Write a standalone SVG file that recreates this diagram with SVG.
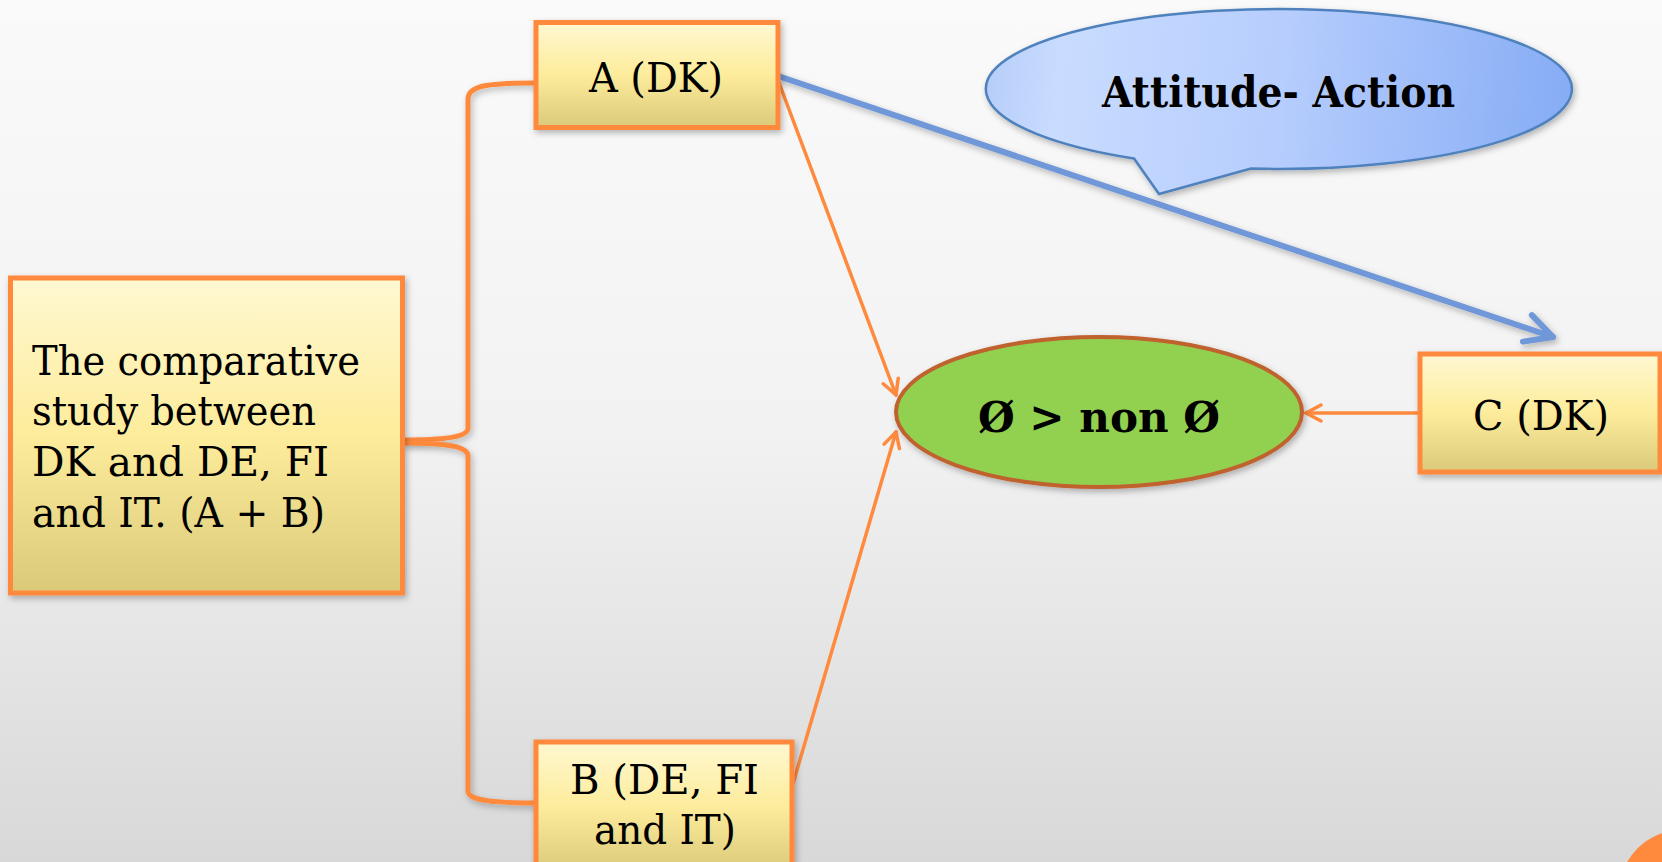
<svg xmlns="http://www.w3.org/2000/svg" width="1662" height="862" viewBox="0 0 1662 862">
  <defs>
    <linearGradient id="bg" x1="0" y1="0" x2="0" y2="1">
      <stop offset="0" stop-color="#fafafa"/>
      <stop offset="0.5" stop-color="#f2f2f2"/>
      <stop offset="1" stop-color="#d8d8d8"/>
    </linearGradient>
    <linearGradient id="boxfill" x1="0" y1="0" x2="0" y2="1">
      <stop offset="0" stop-color="#fff8d2"/>
      <stop offset="0.5" stop-color="#fdec9b"/>
      <stop offset="1" stop-color="#d9c978"/>
    </linearGradient>
    <linearGradient id="callfill" gradientUnits="userSpaceOnUse" x1="990" y1="60" x2="1572" y2="120">
      <stop offset="0" stop-color="#b7cef9"/>
      <stop offset="0.12" stop-color="#c9dcff"/>
      <stop offset="0.5" stop-color="#b6cdfd"/>
      <stop offset="1" stop-color="#86acf5"/>
    </linearGradient>
    <filter id="shadow" x="-10%" y="-10%" width="130%" height="130%">
      <feDropShadow dx="2" dy="3" stdDeviation="3" flood-color="#000" flood-opacity="0.28"/>
    </filter>
    <marker id="arrO" viewBox="0 0 20 20" refX="18" refY="10" markerWidth="20" markerHeight="20" markerUnits="userSpaceOnUse" orient="auto">
      <path d="M3,2 L18,10 L3,18" fill="none" stroke="#ff8a3d" stroke-width="3.5" stroke-linecap="round" stroke-linejoin="round"/>
    </marker>
    <marker id="arrB" viewBox="0 0 34 34" refX="31" refY="17" markerWidth="34" markerHeight="34" markerUnits="userSpaceOnUse" orient="auto">
      <path d="M4,3 L31,17 L4,31" fill="none" stroke="#7097d8" stroke-width="6" stroke-linecap="round" stroke-linejoin="round"/>
    </marker>
    <style>
      .box { fill: url(#boxfill); stroke: #ff8a3d; stroke-width: 5; filter: url(#shadow); }
      .txt { font-family: "DejaVu Serif", "Liberation Serif", serif; font-size: 41px; fill: #000; }
      .bold { font-family: "DejaVu Serif", "Liberation Serif", serif; font-weight: bold; font-size: 43px; fill: #000; }
      .conO { fill: none; stroke: #ff8a3d; stroke-width: 3.5; stroke-linecap: round; }
      .brace { fill: none; stroke: #ff8a3d; stroke-width: 5; filter: url(#shadow); }
    </style>
  </defs>

  <rect x="0" y="0" width="1662" height="862" fill="url(#bg)"/>

  <g id="connectors">
    <path class="brace" d="M536,83 C490,83 468,85 468,99 L468,428 C468,437 445,440 403,440"/>
    <path class="brace" d="M403,443 C445,443 468,446 468,456 L468,791 C468,800 490,803 536,803"/>
    <line class="conO" x1="778" y1="80" x2="896" y2="395" marker-end="url(#arrO)"/>
    <line class="conO" x1="792" y1="787" x2="896" y2="432" marker-end="url(#arrO)"/>
    <line class="conO" x1="1420" y1="413" x2="1306" y2="413" stroke-width="4.5" marker-end="url(#arrO)"/>
    <line x1="778" y1="76" x2="1553" y2="337" stroke="#7097d8" stroke-width="6" stroke-linecap="round" marker-end="url(#arrB)" filter="url(#shadow)"/>
  </g>

  <g id="node-main">
    <rect class="box" x="10.5" y="278" width="392" height="315"/>
    <text class="txt" x="32" y="375" textLength="328" lengthAdjust="spacingAndGlyphs">The comparative</text>
    <text class="txt" x="32" y="425" textLength="284" lengthAdjust="spacingAndGlyphs">study between</text>
    <text class="txt" x="32" y="476" textLength="297" lengthAdjust="spacingAndGlyphs">DK and DE, FI</text>
    <text class="txt" x="32" y="527" textLength="293" lengthAdjust="spacingAndGlyphs">and IT. (A + B)</text>
  </g>

  <g id="node-a">
    <rect class="box" x="536" y="22.5" width="242" height="105"/>
    <text class="txt" x="656" y="92" text-anchor="middle" textLength="134" lengthAdjust="spacingAndGlyphs">A (DK)</text>
  </g>

  <g id="node-b">
    <rect class="box" x="536" y="742" width="256" height="130"/>
    <text class="txt" x="664.5" y="794" text-anchor="middle" textLength="189" lengthAdjust="spacingAndGlyphs">B (DE, FI</text>
    <text class="txt" x="665" y="844" text-anchor="middle" textLength="142" lengthAdjust="spacingAndGlyphs">and IT)</text>
  </g>

  <g id="node-c">
    <rect class="box" x="1420" y="354" width="240" height="118"/>
    <text class="txt" x="1541" y="430" text-anchor="middle" textLength="136" lengthAdjust="spacingAndGlyphs">C (DK)</text>
  </g>

  <g id="node-result">
    <ellipse cx="1099" cy="412" rx="203" ry="75" fill="#92d050" stroke="#c0622e" stroke-width="4" filter="url(#shadow)"/>
    <text class="bold" x="1099" y="432" text-anchor="middle" textLength="242" lengthAdjust="spacingAndGlyphs">Ø &gt; non Ø</text>
  </g>

  <g id="node-callout">
    <path d="M1134,158.5 A293,80 0 1 1 1251,168.6 L1159,194 Z" fill="url(#callfill)" stroke="#4f81bd" stroke-width="2.5" filter="url(#shadow)"/>
    <text class="bold" x="1278.5" y="107" text-anchor="middle" textLength="353" lengthAdjust="spacingAndGlyphs">Attitude- Action</text>
  </g>

  <g id="slide-badge">
    <circle cx="1682" cy="893" r="63" fill="#ff8a3d"/>
  </g>
</svg>
